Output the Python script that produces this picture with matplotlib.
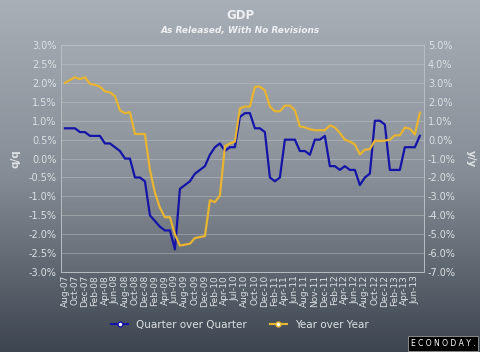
import numpy as np
import matplotlib
matplotlib.use('Agg')
import matplotlib.pyplot as plt
from matplotlib.lines import Line2D

# Monthly releases, every other month labelled on the axis
tick_labels = ['Aug-07', 'Oct-07', 'Dec-07', 'Feb-08', 'Apr-08', 'Jun-08', 'Aug-08', 'Oct-08',
               'Dec-08', 'Feb-09', 'Apr-09', 'Jun-09', 'Aug-09', 'Oct-09', 'Dec-09', 'Feb-10',
               'Apr-10', 'Jul-10', 'Aug-10', 'Oct-10', 'Dec-10', 'Feb-11', 'Apr-11', 'Jun-11',
               'Aug-11', 'Nov-11', 'Dec-11', 'Feb-12', 'Apr-12', 'Jun-12', 'Aug-12', 'Oct-12',
               'Dec-12', 'Feb-13', 'Apr-13', 'Jun-13']

# quarter over quarter (%), left axis
qoq = [0.8, 0.8, 0.8, 0.7, 0.7, 0.6, 0.6, 0.6, 0.4, 0.4, 0.3, 0.2, 0.0, 0.0, -0.5, -0.5,
       -0.6, -1.5, -1.65, -1.8, -1.9, -1.9, -2.4, -0.8, -0.7, -0.6, -0.4, -0.3, -0.2, 0.1,
       0.3, 0.4, 0.2, 0.3, 0.3, 1.1, 1.2, 1.2, 0.8, 0.8, 0.7, -0.5, -0.6, -0.5, 0.5, 0.5,
       0.5, 0.2, 0.2, 0.1, 0.5, 0.5, 0.6, -0.2, -0.2, -0.3, -0.2, -0.3, -0.3, -0.7, -0.5,
       -0.4, 1.0, 1.0, 0.9, -0.3, -0.3, -0.3, 0.3, 0.3, 0.3, 0.6]

# year over year (%), right axis
yoy = [3.0, 3.15, 3.3, 3.2, 3.3, 2.95, 2.9, 2.8, 2.55, 2.5, 2.3, 1.55, 1.4, 1.45, 0.3, 0.3,
       0.3, -1.6, -2.8, -3.6, -4.1, -4.1, -5.0, -5.6, -5.55, -5.5, -5.2, -5.15, -5.1, -3.2,
       -3.3, -2.95, -0.35, -0.2, -0.1, 1.65, 1.75, 1.75, 2.8, 2.8, 2.6, 1.75, 1.5, 1.5, 1.8,
       1.8, 1.55, 0.7, 0.65, 0.55, 0.5, 0.5, 0.5, 0.75, 0.65, 0.35, 0.0, -0.1, -0.25, -0.78,
       -0.53, -0.5, -0.05, -0.07, -0.05, 0.0, 0.23, 0.23, 0.64, 0.58, 0.27, 1.42]

blue = '#1414a8'
gold = '#e8b531'
txt = '#dde1e5'

fig = plt.figure(figsize=(4.8, 3.52), dpi=100)

# background gradient
bg = fig.add_axes([0, 0, 1, 1], zorder=-10)
grad = np.linspace(0, 1, 256).reshape(-1, 1)
cmap = matplotlib.colors.LinearSegmentedColormap.from_list('bg', ['#a9afb7', '#858c95', '#3d4550'])
bg.imshow(grad, aspect='auto', cmap=cmap, extent=[0, 1, 0, 1])
bg.axis('off')

ax = fig.add_axes([0.127, 0.227, 0.756, 0.645])
ax.set_facecolor((1, 1, 1, 0.04))
ax2 = ax.twinx()

x = np.arange(len(qoq))
ax.plot(x, qoq, color=blue, lw=1.6, zorder=3)
ax2.plot(x, yoy, color=gold, lw=1.6, zorder=2)

ax.set_xlim(-0.8, 71.8)
ax.set_ylim(-3.0, 3.0)
ax2.set_ylim(-7.0, 5.0)
ax.set_yticks(np.arange(-3.0, 3.01, 0.5))
ax2.set_yticks(np.arange(-7, 5.01, 1))
ax.set_yticklabels([f'{v:.1f}%' for v in np.arange(-3.0, 3.01, 0.5)])
ax2.set_yticklabels([f'{v:.1f}%' for v in np.arange(-7, 5.01, 1)])
ax.set_xticks(np.arange(0, 72, 2))
ax.set_xticklabels(tick_labels, rotation=90)

ax.grid(axis='y', color='#c4c9ce', lw=0.6, alpha=0.5)
ax.set_axisbelow(True)
for a in (ax, ax2):
    for s in a.spines.values():
        s.set_color('#b8bec4')
        s.set_linewidth(0.6)
    a.tick_params(length=0, colors=txt, labelsize=7, pad=3)
ax.tick_params(axis='x', labelsize=6.5, pad=2)

ax.set_ylabel('q/q', color=txt, fontsize=7.5, fontweight='bold', labelpad=6)
ax2.set_ylabel('y/y', color=txt, fontsize=7.5, fontweight='bold', rotation=270, labelpad=14)

fig.text(0.5, 0.957, 'GDP', ha='center', va='center', color='#eef0f2', fontsize=8.5, fontweight='bold')
fig.text(0.5, 0.914, 'As Released, With No Revisions', ha='center', va='center', color='#eef0f2',
         fontsize=6.5, fontweight='bold', style='italic')

handles = [Line2D([0], [0], color=blue, lw=1.5, marker='o', ms=3.5, mfc='white', mec=blue),
           Line2D([0], [0], color=gold, lw=1.5, marker='o', ms=3.5, mfc='white', mec=gold)]
leg = fig.legend(handles, ['Quarter over Quarter', 'Year over Year'], loc='center',
                 bbox_to_anchor=(0.5, 0.077), ncol=2, frameon=False, fontsize=7.5,
                 handlelength=1.6, columnspacing=2.2, handletextpad=0.8)
for t in leg.get_texts():
    t.set_color(txt)

# logo box
fig.text(0.99, 0.012, 'E C O N O D A Y .', ha='right', va='bottom', color='white', fontsize=5.5,
         bbox=dict(facecolor='black', edgecolor='#999999', pad=2, lw=0.6))

fig.savefig('out.png', dpi=100)
